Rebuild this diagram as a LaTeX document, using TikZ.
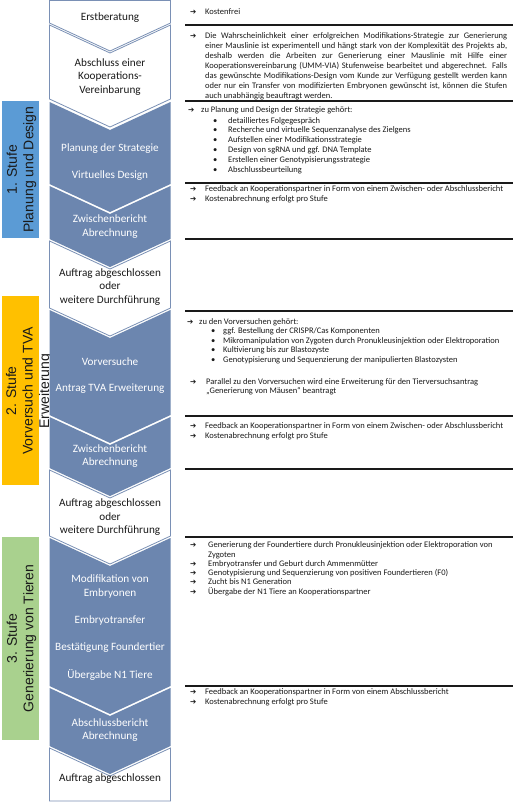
\documentclass[tikz,border=0pt]{standalone}
\usepackage{fontspec}
\setmainfont{Carlito}
\newfontfamily\stagefont{Liberation Sans}
\newfontfamily\arrfont{DejaVu Sans}
\definecolor{chevblue}{HTML}{6C86AF}
\definecolor{chevline}{HTML}{7A90B5}
\definecolor{stageone}{HTML}{5B9BD5}
\definecolor{stagetwo}{HTML}{FFC000}
\definecolor{stagethree}{HTML}{A9D18E}
\definecolor{txt}{HTML}{1A1A1A}
\newcommand\myarrow{{\arrfont\fontsize{7.5}{10}\selectfont ➔}}
\newcommand\mychev[3]{\path[#1] (49.5,#2) -- (110,#2+28) -- (170.5,#2) -- (170.5,#3) -- (110,#3+28) -- (49.5,#3) -- cycle;}
\newcommand\arrline[5]{\node[rtext] (#1a) at (#2,#4) {\myarrow}; \node[rtext] (#1) at (#3,#4) {#5};}
\newcommand\bulline[5]{\node[rtext] (#1a) at (#2,#4) {•}; \node[rtext] (#1) at (#3,#4) {#5};}
\tikzset{
  chevwhite/.style={fill=white, draw=chevline, line width=0.8pt},
  chevfill/.style={fill=chevblue, draw=none},
  ctext/.style={font=\fontsize{11.2}{13.5}\selectfont, align=center, inner sep=0pt},
  ctextw/.style={ctext, text=white},
  ctextb/.style={ctext, text=txt},
  stagetext/.style={font=\stagefont\fontsize{14}{16.5}\selectfont, rotate=90, align=center, text=txt, inner sep=0pt},
  rtext/.style={font=\fontsize{8.5}{10}\selectfont, anchor=base west, inner sep=0pt, text=txt},
  sepline/.style={line width=1.1pt, txt},
}
\begin{document}
\begin{tikzpicture}[x=1pt,y=-1pt]
\useasboundingbox (0,0) rectangle (513,803);
\fill[white] (0,0) rectangle (513,803);

% ---- stage labels
\fill[stageone] (1.5,101) rectangle (39,238);
\node[stagetext] (s1) at (21.5,169.5) {1. Stufe\\Planung und Design};
\fill[stagetwo] (1.5,296) rectangle (39,485);
\node[stagetext] (s2) at (29,391) {2. Stufe\\Vorversuch und TVA\\Erweiterung};
\fill[stagethree] (1.5,537) rectangle (39,740);
\node[stagetext] (s3) at (21.5,638.5) {3. Stufe\\Generierung von Tieren};

% ---- chevron column
\path[chevwhite] (49.5,0.5) -- (170.5,0.5) -- (170.5,23) -- (110,51) -- (49.5,23) -- cycle;
\mychev{chevwhite}{25}{99}
\mychev{chevfill}{102}{184}
\mychev{chevfill}{186}{239}
\mychev{chevwhite}{241}{308}
\mychev{chevfill}{310}{415}
\mychev{chevfill}{417}{468}
\mychev{chevwhite}{470}{536}
\mychev{chevfill}{538}{686}
\mychev{chevfill}{688}{746}
\path[chevwhite] (49.5,748) -- (110,776) -- (170.5,748) -- (170.5,801) -- (49.5,801) -- cycle;

\node[ctextb] (c1) at (110,18) {Erstberatung};
\node[ctextb] (c2) at (110,77) {Abschluss einer\\Kooperations-\\Vereinbarung};
\node[ctextw] (c3a) at (110,149) {Planung der Strategie};
\node[ctextw] (c3b) at (110,176) {Virtuelles Design};
\node[ctextw] (c4) at (110,226.5) {Zwischenbericht\\Abrechnung};
\node[ctextb] (c5) at (110,287) {Auftrag abgeschlossen\\oder\\weitere Durchführung};
\node[ctextw] (c6a) at (110,362) {Vorversuche};
\node[ctextw] (c6b) at (110,389) {Antrag TVA Erweiterung};
\node[ctextw] (c7) at (110,456) {Zwischenbericht\\Abrechnung};
\node[ctextb] (c8) at (110,517.5) {Auftrag abgeschlossen\\oder\\weitere Durchführung};
\node[ctextw] (c9a) at (110,586.5) {Modifikation von\\Embryonen};
\node[ctextw] (c9b) at (110,621) {Embryotransfer};
\node[ctextw] (c9c) at (110,648) {Bestätigung Foundertier};
\node[ctextw] (c9d) at (110,675) {Übergabe N1 Tiere};
\node[ctextw] (c10) at (110,730) {Abschlussbericht\\Abrechnung};
\node[ctextb] (c11) at (110,779) {Auftrag abgeschlossen};

% ---- separator lines
\foreach \yy in {25,101,183,239,311,416,469,537,686}
  \draw[sepline] (185,\yy) -- (513,\yy);

% ---- right text
\arrline{r1}{190}{205}{14}{Kostenfrei}

\arrline{p1}{190}{205}{38.5}{\makebox[302pt][s]{Die Wahrscheinlichkeit einer erfolgreichen Modifikations-Strategie zur Generierung}}
\node[rtext] (p2) at (205,48.5) {\makebox[302pt][s]{einer Mauslinie ist experimentell und hängt stark von der Komplexität des Projekts ab,}};
\node[rtext] (p3) at (205,58.5) {\makebox[302pt][s]{deshalb werden die Arbeiten zur Generierung einer Mauslinie mit Hilfe einer}};
\node[rtext] (p4) at (205,68.5) {\makebox[302pt][s]{Kooperationsvereinbarung (UMM-VIA) Stufenweise bearbeitet und abgerechnet. Falls}};
\node[rtext] (p5) at (205,78.5) {\makebox[302pt][s]{das gewünschte Modifikations-Design vom Kunde zur Verfügung gestellt werden kann}};
\node[rtext] (p6) at (205,88.5) {\makebox[302pt][s]{oder nur ein Transfer von modifizierten Embryonen gewünscht ist, können die Stufen}};
\node[rtext] (p7) at (205,98.5) {auch unabhängig beauftragt werden.};

\arrline{q0}{188}{201}{112.5}{zu Planung und Design der Strategie gehört:}
\bulline{q1}{213}{228}{123}{detailliertes Folgegespräch}
\bulline{q2}{213}{228}{132.8}{Recherche und virtuelle Sequenzanalyse des Zielgens}
\bulline{q3}{213}{228}{142.7}{Aufstellen einer Modifikationsstrategie}
\bulline{q4}{213}{228}{152.5}{Design von sgRNA und ggf. DNA Template}
\bulline{q5}{213}{228}{162.4}{Erstellen einer Genotypisierungsstrategie}
\bulline{q6}{213}{228}{172.2}{Abschlussbeurteilung}

\arrline{f1}{190}{205}{191}{Feedback an Kooperationspartner in Form von einem Zwischen- oder Abschlussbericht}
\arrline{k1}{190}{205}{201}{Kostenabrechnung erfolgt pro Stufe}

\arrline{v0}{187}{199}{324}{zu den Vorversuchen gehört:}
\bulline{v1}{211}{223}{333.5}{ggf. Bestellung der CRISPR/Cas Komponenten}
\bulline{v2}{211}{223}{343}{Mikromanipulation von Zygoten durch Pronukleusinjektion oder Elektroporation}
\bulline{v3}{211}{223}{352.5}{Kultivierung bis zur Blastozyste}
\bulline{v4}{211}{223}{362}{Genotypisierung und Sequenzierung der manipulierten Blastozysten}
\arrline{w1}{190}{206}{384}{Parallel zu den Vorversuchen wird eine Erweiterung für den Tierversuchsantrag}
\node[rtext] (w2) at (206,393.5) {„Generierung von Mäusen“ beantragt};

\arrline{f2}{190}{205}{428.5}{Feedback an Kooperationspartner in Form von einem Zwischen- oder Abschlussbericht}
\arrline{k2}{190}{205}{438}{Kostenabrechnung erfolgt pro Stufe}

\arrline{g1}{190}{208}{547.5}{Generierung der Foundertiere durch Pronukleusinjektion oder Elektroporation von}
\node[rtext] (g1b) at (208,557.5) {Zygoten};
\arrline{g2}{190}{208}{566.5}{Embryotransfer und Geburt durch Ammenmütter}
\arrline{g3}{190}{208}{575.5}{Genotypisierung und Sequenzierung von positiven Foundertieren (F0)}
\arrline{g4}{190}{208}{584.5}{Zucht bis N1 Generation}
\arrline{g5}{190}{208}{594}{Übergabe der N1 Tiere an Kooperationspartner}

\arrline{f3}{190}{205}{694.5}{Feedback an Kooperationspartner in Form von einem Abschlussbericht}
\arrline{k3}{190}{205}{704.5}{Kostenabrechnung erfolgt pro Stufe}
\end{tikzpicture}
\end{document}
